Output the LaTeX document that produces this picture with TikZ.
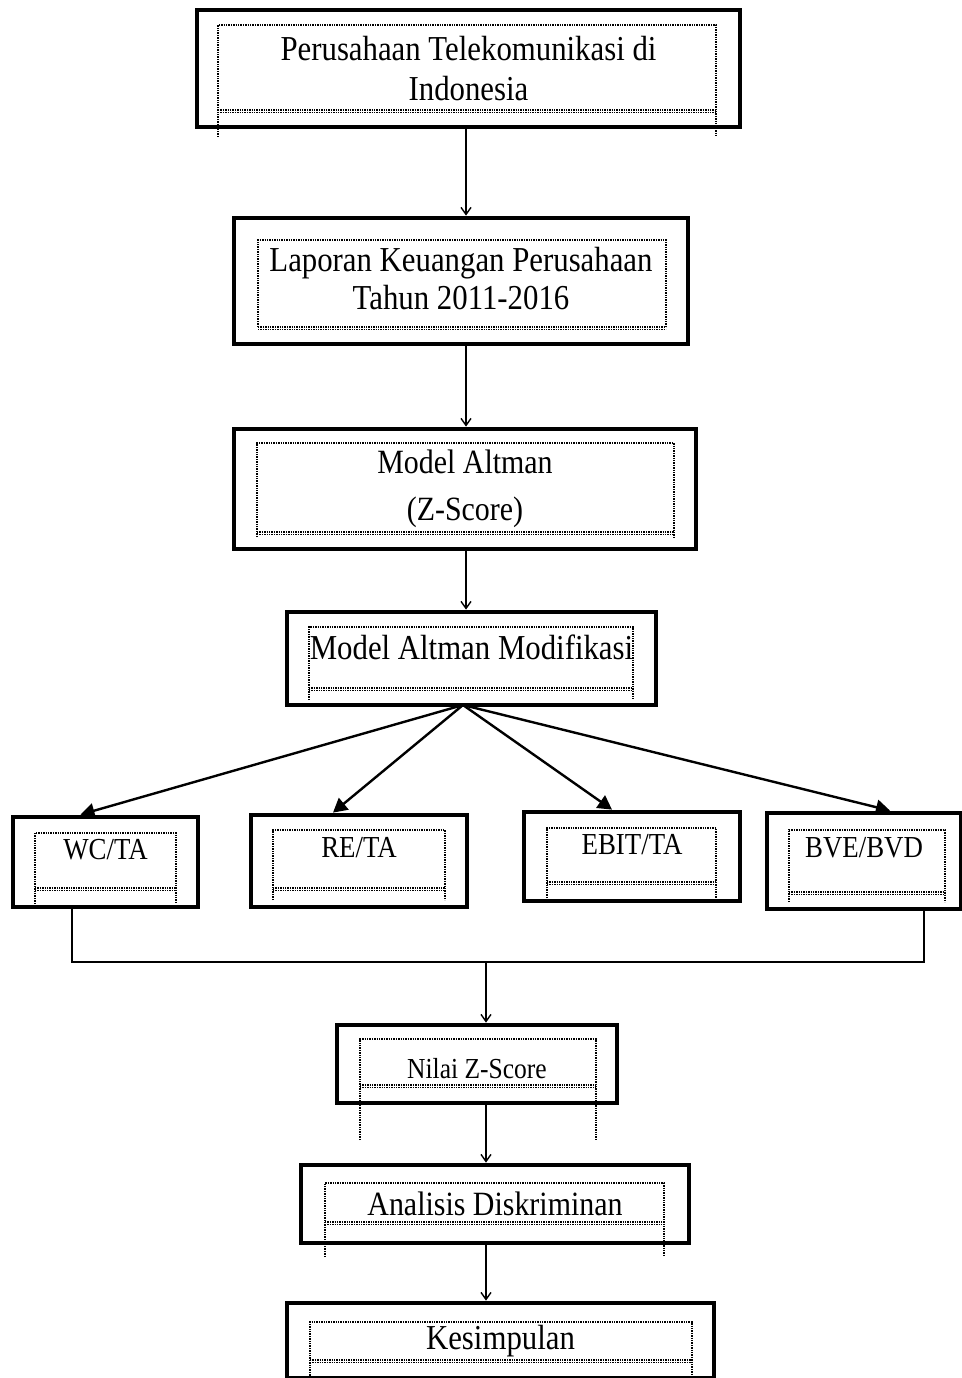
\documentclass[tikz,border=0pt]{standalone}
\usepackage{fontspec}
\setmainfont[FakeStretch=0.88]{Liberation Serif}
\usetikzlibrary{arrows.meta}

\begin{document}
\begin{tikzpicture}[x=1pt, y=-1pt,
    box/.style={draw, line width=4.8pt, inner sep=0pt},
    txt/.style={align=center, inner sep=0pt, font=\fontsize{35}{40}\selectfont},
    smalltxt/.style={align=center, inner sep=0pt, font=\fontsize{30.5}{34}\selectfont},
    arr/.style={line width=1.4pt, -{Straight Barb[length=7pt,width=10pt]}},
    fanarr/.style={line width=2.4pt, -{Triangle[length=14pt,width=15pt]}},
    inner/.style={densely dotted, line width=1.4pt}]
  \useasboundingbox (0,0) rectangle (961,1378);

  % Boxes
  \node[box, minimum width=543pt, minimum height=117pt] (perusahaan) at (468.5,68.5) {};
  \node[box, minimum width=454pt, minimum height=126pt] (laporan) at (461,281) {};
  \node[box, minimum width=462pt, minimum height=120pt] (altman) at (465,489) {};
  \node[box, minimum width=369pt, minimum height=93pt] (modif) at (471.5,658.5) {};
  \node[box, minimum width=185pt, minimum height=90pt] (wc) at (105.5,862) {};
  \node[box, minimum width=216pt, minimum height=92pt] (re) at (359,861) {};
  \node[box, minimum width=216pt, minimum height=89pt] (ebit) at (632,856.5) {};
  \node[box, minimum width=194pt, minimum height=96pt] (bve) at (864,861) {};
  \node[box, minimum width=280pt, minimum height=78pt] (nilai) at (477,1064) {};
  \node[box, minimum width=388pt, minimum height=78pt] (analisis) at (495,1204) {};
  \node[box, minimum width=427pt, minimum height=75pt] (kesimpulan) at (500.5,1340.5) {};

  % Dotted inner frames
  \foreach \xa/\ya/\xb/\yb/\yc in {218/25/716/110/137, 258/240/666/327/327,
      257/443/674/532/537, 309/627/633/688/700, 35/833/176/888/904,
      273/830/445/888/900, 547/828/716/882/898, 789/830/945/892/902,
      360/1039/596/1085/1140, 325/1183/664/1222/1257, 310/1322/692/1360/1378} {
    \draw[inner] (\xa,\yc) -- (\xa,\ya) -- (\xb,\ya) -- (\xb,\yc);
    \draw[inner] (\xa,\yb) -- (\xb,\yb);
    \draw[inner] (\xa,\yb+2.5) -- (\xb,\yb+2.5);
  }

  % Texts
  \node[txt] (perusahaan-t) at (perusahaan.center) {Perusahaan Telekomunikasi di\\Indonesia};
  \node[txt, font=\fontsize{35}{38}\selectfont] (laporan-t) at ([yshift=2pt]laporan.center) {Laporan Keuangan Perusahaan\\Tahun 2011-2016};
  \node[txt, font=\fontsize{34}{47}\selectfont] (altman-t) at (altman.center) {Model Altman\\(Z-Score)};
  \node[txt] (modif-t) at ([yshift=11pt]modif.center) {Model Altman Modifikasi};
  \node[smalltxt] (wc-t) at ([yshift=12pt]wc.center) {WC/TA};
  \node[smalltxt] (re-t) at ([yshift=13pt]re.center) {RE/TA};
  \node[smalltxt] (ebit-t) at ([yshift=11.5pt]ebit.center) {EBIT/TA};
  \node[smalltxt] (bve-t) at ([yshift=13pt]bve.center) {BVE/BVD};
  \node[txt, font=\fontsize{29}{32}\selectfont] (nilai-t) at ([yshift=-5pt]nilai.center) {Nilai Z-Score};
  \node[txt, font=\fontsize{34}{38}\selectfont] (analisis-t) at (analisis.center) {Analisis Diskriminan};
  \node[txt] (kesimpulan-t) at ([yshift=-1pt]kesimpulan.center) {Kesimpulan};

  % Arrows
  \coordinate (spine) at (466,0);
  \draw[arr] (perusahaan.south -| spine) -- (laporan.north -| spine);
  \draw[arr] (laporan.south -| spine) -- (altman.north -| spine);
  \draw[arr] (altman.south -| spine) -- (modif.north -| spine);

  \coordinate (fan) at (463,705);
  \draw[fanarr] (fan) -- ([xshift=-25pt]wc.north);
  \draw[fanarr] (fan) -- ([xshift=-26pt]re.north);
  \draw[fanarr] (fan) -- ([xshift=-20pt]ebit.north);
  \draw[fanarr] (fan) -- ([xshift=26pt]bve.north);

  \coordinate (join) at (486,962);
  \draw[line width=1.4pt] ([xshift=-33.5pt]wc.south) -- ([xshift=-33.5pt]wc.south |- join)
    -- ([xshift=60pt]bve.south |- join) -- ([xshift=60pt]bve.south);
  \draw[arr] (join) -- (join |- nilai.north);
  \draw[arr] (nilai.south -| join) -- (analisis.north -| join);
  \draw[arr] (analisis.south -| join) -- (kesimpulan.north -| join);
\end{tikzpicture}
\end{document}
